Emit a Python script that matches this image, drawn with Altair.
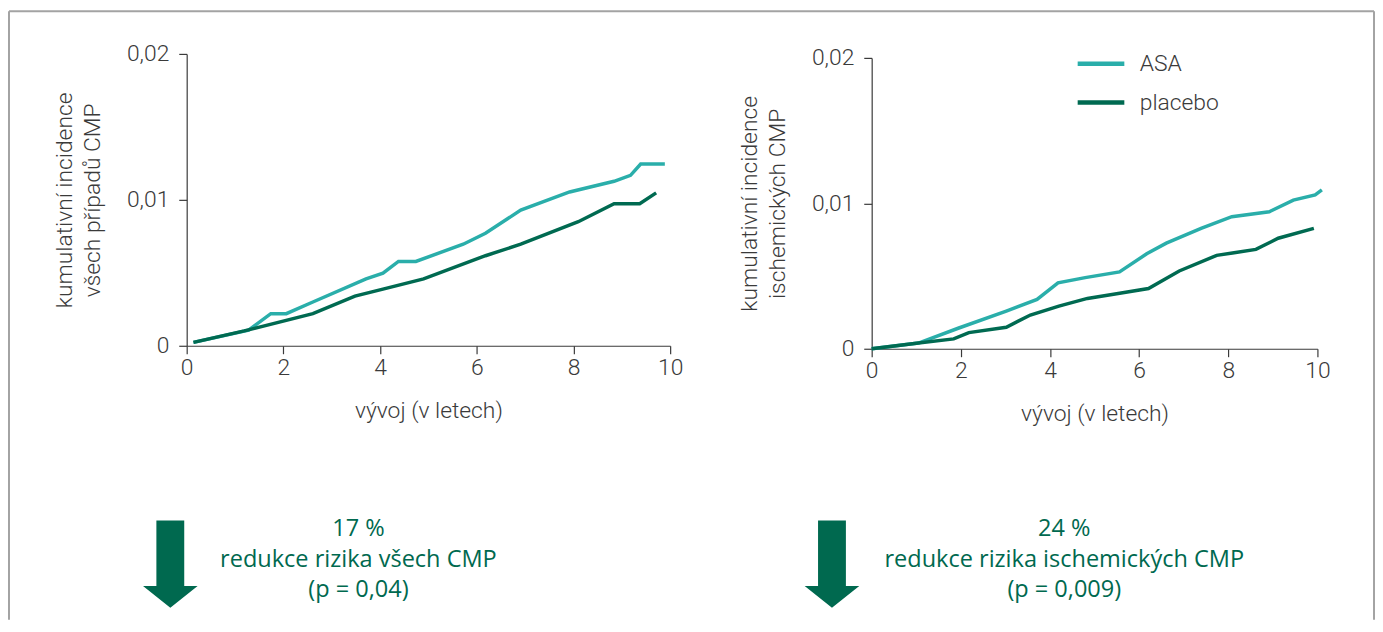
import altair as alt
import pandas as pd

# ---------------- data ----------------
groups = ["ASA", "placebo"]

left_asa_x = [0.14, 1.28, 1.74, 2.06, 2.61, 3.71, 4.06, 4.38, 4.74, 5.72, 6.18, 6.91, 7.92, 8.84, 9.18, 9.39, 9.89]
left_asa_y = [0.00023, 0.00107, 0.0022, 0.0022, 0.0030, 0.00458, 0.00497, 0.00578, 0.00578, 0.00696, 0.00771,
              0.0093, 0.01054, 0.01127, 0.01168, 0.01245, 0.01245]
left_pl_x = [0.14, 1.19, 2.61, 3.48, 4.08, 4.9, 6.18, 6.91, 8.1, 8.84, 9.37, 9.71]
left_pl_y = [0.00023, 0.00102, 0.0022, 0.0034, 0.0039, 0.00458, 0.00617, 0.00696, 0.0085, 0.00973, 0.00973, 0.01048]

right_asa_x = [0, 1.05, 1.94, 3.02, 3.71, 4.18, 4.79, 5.56, 6.17, 6.61, 7.39, 8.08, 8.92, 9.46, 9.95, 10.1]
right_asa_y = [0, 0.00039, 0.00141, 0.00259, 0.00339, 0.00453, 0.00489, 0.00528, 0.00653, 0.00726, 0.00828,
               0.00908, 0.00942, 0.01022, 0.01058, 0.01092]
right_pl_x = [0, 1.05, 1.84, 2.18, 3.02, 3.56, 4.2, 4.84, 5.53, 6.21, 6.9, 7.74, 8.13, 8.62, 9.12, 9.92]
right_pl_y = [0, 0.00039, 0.00068, 0.00111, 0.00148, 0.00232, 0.00293, 0.00346, 0.0038, 0.00414, 0.00535,
              0.00642, 0.0066, 0.00683, 0.0076, 0.00828]

x_ticks = [0, 2, 4, 6, 8, 10]
y_ticks = [0, 0.01, 0.02]

x_title = "vývoj (v letech)"
left_y_title = ["kumulativní incidence", "všech případů CMP"]
right_y_title = ["kumulativní incidence", "ischemických CMP"]

left_note = ["17 %", "redukce rizika všech CMP", "(p = 0,04)"]
right_note = ["24 %", "redukce rizika ischemických CMP", "(p = 0,009)"]

# ---------------- styling ----------------
ASA_C = "#2aaeaa"
PL_C = "#006a51"
DARK = "#00694f"
AXIS_C = "#3a3a3a"
BORDER = "#a3a3a3"
AX_FONT = "Roboto"
TXT_FONT = "Open Sans"
ARROW_PATH = "M -0.51 -1.6 L 0.51 -1.6 L 0.51 0.8 L 1 0.8 L 0 1.6 L -1 0.8 L -0.51 0.8 Z"


def frame(xs_a, ys_a, xs_p, ys_p):
    rows = []
    for g, xs, ys in (("ASA", xs_a, ys_a), ("placebo", xs_p, ys_p)):
        for i, (x, y) in enumerate(zip(xs, ys)):
            rows.append({"x": x, "y": y, "group": g, "i": i})
    return pd.DataFrame(rows)


one = pd.DataFrame({"k": [0]})


def panel(df, ytitle, width, height, yrange, legend, note, note_x, arrow_x):
    yscale = alt.Scale(domain=[0, 0.02], nice=False, zero=True)
    if yrange is not None:
        yscale = alt.Scale(domain=[0, 0.02], nice=False, zero=True, range=yrange)
    lines = alt.Chart(df).mark_line(strokeWidth=3.5).encode(
        x=alt.X("x:Q", scale=alt.Scale(domain=[0, 10], nice=False),
                axis=alt.Axis(values=x_ticks, title=x_title)),
        y=alt.Y("y:Q", scale=yscale,
                axis=alt.Axis(values=y_ticks, title=ytitle,
                              labelExpr="replace(format(datum.value, '.2~f'), '.', ',')")),
        color=alt.Color("group:N", scale=alt.Scale(domain=groups, range=[ASA_C, PL_C]), legend=legend),
        order="i:Q",
    )
    arrow = alt.Chart(one).mark_point(shape=ARROW_PATH, size=3025, filled=True, fill=DARK,
                                      opacity=1, strokeWidth=0).encode(
        x=alt.value(arrow_x), y=alt.value(514))
    text = alt.Chart(one).mark_text(text=note, font=TXT_FONT, fontSize=23.7, fontWeight=500, color=DARK,
                                    align="center", baseline="alphabetic", lineHeight=30.5).encode(
        x=alt.value(note_x), y=alt.value(486))
    return alt.layer(lines, arrow, text).properties(width=width, height=height)


left_df = frame(left_asa_x, left_asa_y, left_pl_x, left_pl_y)
right_df = frame(right_asa_x, right_asa_y, right_pl_x, right_pl_y)

left = panel(left_df, left_y_title, 487, 294, None, None, left_note, 173, -16.5)

legend = alt.Legend(orient="none", legendX=205, legendY=-16, title=None, symbolType="stroke",
                    symbolSize=2209, symbolStrokeWidth=4.5, labelFont=AX_FONT, labelFontSize=23,
                    labelFontWeight=300, labelColor=AXIS_C, labelOffset=13, rowPadding=1, padding=0)
right = panel(right_df, right_y_title, 449, 297, [297, 4], legend, right_note, 194, -40)

# page border (drawn in the left panel's pixel frame)
rule = alt.Chart(one).mark_rule(color=BORDER, strokeWidth=2)
border = alt.layer(
    rule.encode(x=alt.value(-179), y=alt.value(-43), y2=alt.value(570)),
    rule.encode(x=alt.value(-179), x2=alt.value(1196), y=alt.value(-43)),
    rule.encode(x=alt.value(1196), y=alt.value(-43), y2=alt.value(570)),
)
left = alt.layer(border, left)

chart = alt.hconcat(left, right, spacing=203, bounds="flush").resolve_legend(
    color="independent"
).properties(padding=0).configure_view(stroke=None).configure_axis(
    grid=False, labelFlush=False,
    labelFont=AX_FONT, labelFontSize=23, labelFontWeight=300, labelColor=AXIS_C,
    titleFont=AX_FONT, titleFontSize=23, titleFontWeight=300, titleColor=AXIS_C,
    domainColor=AXIS_C, domainWidth=1.2, tickColor=AXIS_C, tickWidth=1.2, tickSize=8,
).configure_axisX(labelPadding=3, titlePadding=20).configure_axisY(
    labelPadding=10, titlePadding=22, titleLineHeight=28
)

chart.save("out.html", embed_options={"renderer": "svg", "actions": False})
